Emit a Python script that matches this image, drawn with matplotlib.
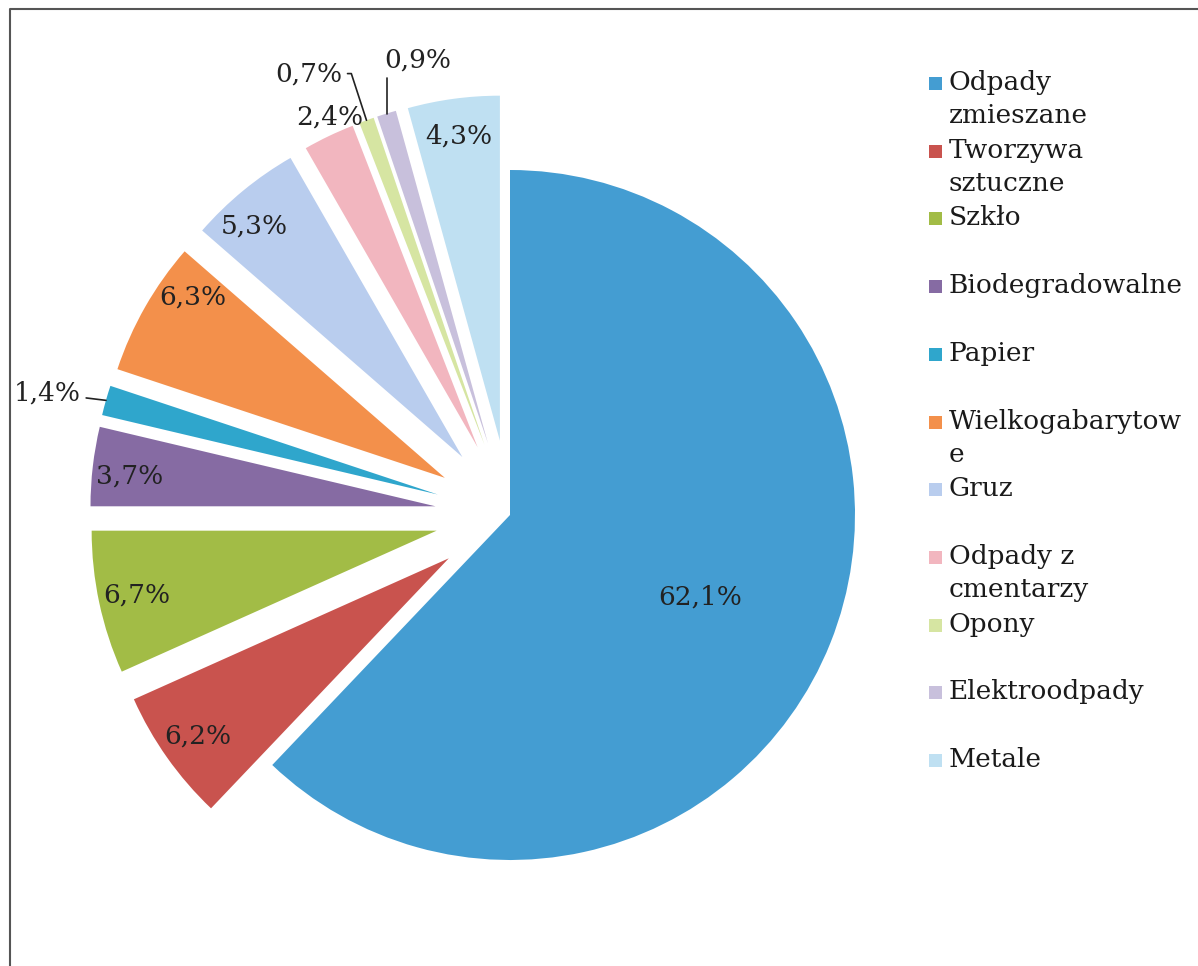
import numpy as np
import matplotlib
matplotlib.use("Agg")
from matplotlib import pyplot as plt
from matplotlib.patches import Rectangle

categories = ["Odpady zmieszane", "Tworzywa sztuczne", "Szkło", "Biodegradowalne", "Papier",
              "Wielkogabarytowe", "Gruz", "Odpady z cmentarzy", "Opony", "Elektroodpady", "Metale"]
legend_labels = ["Odpady\nzmieszane", "Tworzywa\nsztuczne", "Szkło", "Biodegradowalne", "Papier",
                 "Wielkogabarytow\ne", "Gruz", "Odpady z\ncmentarzy", "Opony", "Elektroodpady", "Metale"]
values = [62.1, 6.2, 6.7, 3.7, 1.4, 6.3, 5.3, 2.4, 0.7, 0.9, 4.3]
colors = ["#449dd2", "#c9534e", "#a2bc46", "#866ba3", "#2fa6cc", "#f3904b",
          "#b9cdee", "#f2b6bf", "#d6e5a2", "#c8c0dc", "#bfe0f2"]

W, H = 1198, 966
plt.rcParams["font.family"] = ["DejaVu Serif"]
fig = plt.figure(figsize=(W / 100, H / 100), dpi=100)
ax = fig.add_axes([0, 0, 1, 1])

# explode is in data units here (axes are in pixels)
explode = [0] + [75] * (len(values) - 1)
wedges, texts, autotexts = ax.pie(
    values, explode=explode, colors=colors, startangle=90, counterclock=False,
    center=(510, H - 515), radius=345, wedgeprops=dict(linewidth=0),
    autopct=lambda p: f"{p:.1f}".replace(".", ",") + "%", pctdistance=0.89,
    textprops=dict(fontsize=19, color="#222222"))
ax.set_xlim(0, W)
ax.set_ylim(0, H)
ax.set_aspect("equal")
ax.axis("off")


def polar(w, frac, ang):
    cx, cy = w.center
    a = np.deg2rad(ang)
    return cx + w.r * frac * np.cos(a), cy + w.r * frac * np.sin(a)


def mid(w):
    return (w.theta1 + w.theta2) / 2

# big slice label sits nearer the centre
autotexts[0].set_position(polar(wedges[0], 0.6, mid(wedges[0]) - 1.5))
# small nudges so labels sit like in the original
autotexts[3].set_position(polar(wedges[3], 0.89, mid(wedges[3]) + 1.0))
autotexts[5].set_position(polar(wedges[5], 0.9, mid(wedges[5]) - 6.0))
autotexts[6].set_position(polar(wedges[6], 0.9, mid(wedges[6]) + 2.6))

# small slices: labels outside, some with leader lines
outside = {4: (1.17, 1.3, "arc3"),
           7: (1.05, -1.4, None),
           8: (1.19, 5.4, "angle,angleA=0,angleB=108,rad=0"),
           9: (1.13, -6.8, "angle,angleA=180,angleB=90,rad=0")}
for i, (dist, off, conn) in outside.items():
    w = wedges[i]
    t = autotexts[i]
    pos = polar(w, dist, mid(w) + off)
    if conn is None:
        t.set_position(pos)
        continue
    t.set_visible(False)
    ax.annotate(t.get_text(), xy=polar(w, 1.0, mid(w)), xytext=pos,
                ha="center", va="center", fontsize=19, color="#222222",
                arrowprops=dict(arrowstyle="-", color="#222222", lw=1.2,
                                connectionstyle=conn, shrinkA=2, shrinkB=0))

# legend drawn by hand: one fixed slot per entry, marker on the first line
for i, (lab, c) in enumerate(zip(legend_labels, colors)):
    base = H - (90 + 67.7 * i)
    ax.add_patch(Rectangle((929, base), 13, 13, facecolor=c, edgecolor="none"))
    for j, line in enumerate(lab.split("\n")):
        ax.text(949, base - 33 * j, line, fontsize=19, color="#1a1a1a",
                ha="left", va="baseline")

# chart frame (only top and left edges fall inside the image)
ax.plot([10, 10, W], [0, H - 9, H - 9], color="#555555", lw=1.5, clip_on=False)

fig.savefig("out.png", dpi=100)
